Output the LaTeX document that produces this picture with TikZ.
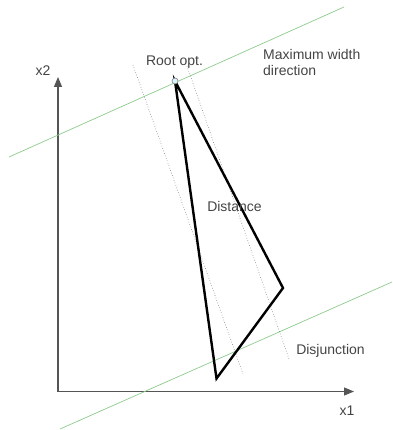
\documentclass[tikz,border=0pt]{standalone}
\usepackage{fontspec}
\setmainfont{Liberation Sans}
\usetikzlibrary{arrows.meta}
\definecolor{txt}{HTML}{444444}
\definecolor{axisc}{HTML}{555555}
\definecolor{grn}{HTML}{8CCB8C}
\definecolor{dotc}{HTML}{777777}
\tikzset{
  lbl/.style={text=txt, font=\fontsize{14}{16}\selectfont, inner sep=0pt},
  axisline/.style={draw=axisc, line width=1.1pt, -{Triangle[length=10pt,width=8pt]}},
  greenline/.style={draw=grn, line width=0.7pt},
  dotline/.style={draw=dotc, line width=0.6pt, dotted},
  tri/.style={draw=black, line width=2.4pt, line join=miter},
}
\begin{document}
\begin{tikzpicture}[x=1pt,y=-1pt]
\useasboundingbox (0,0) rectangle (392,430);
% axes
\coordinate (O) at (58,391.5);
\coordinate (ytip) at (58,77);
\coordinate (xtip) at (354,391.5);
\draw[axisline] (O) -- (ytip);
\draw[axisline] (O) -- (xtip);
\node[lbl] (x2) at (43,71) {x2};
\node[lbl] (x1) at (347,411) {x1};
% green lines
\coordinate (g1a) at (9,157);
\coordinate (g1b) at (344,7);
\coordinate (g2a) at (60,429);
\coordinate (g2b) at (392,282);
\draw[greenline] (g1a) -- (g1b);
\draw[greenline] (g2a) -- (g2b);
% dotted lines
\coordinate (d1a) at (133,65);
\coordinate (d1b) at (243,374);
\coordinate (d2a) at (187,66);
\coordinate (d2b) at (289,359);
\draw[dotline] (d1a) -- (d1b);
\draw[dotline] (d2a) -- (d2b);
% triangle
\coordinate (R) at (175,81);
\coordinate (P) at (283,288);
\coordinate (Q) at (216.5,378.5);
\draw[tri] (R) -- (P) -- (Q) -- cycle;
\node[circle, draw=gray, fill=cyan!15, line width=0.6pt, minimum size=6pt, inner sep=0pt] (root) at (R) {};
% labels
\node[lbl] (rootlbl) at (174.5,62) {Root opt.};
\node[lbl, anchor=west, align=left] (maxw) at (263,62) {Maximum width\\direction};
\node[lbl] (dist) at (234.5,206) {Distance};
\node[lbl] (disj) at (330.5,351) {Disjunction};
\end{tikzpicture}
\end{document}
